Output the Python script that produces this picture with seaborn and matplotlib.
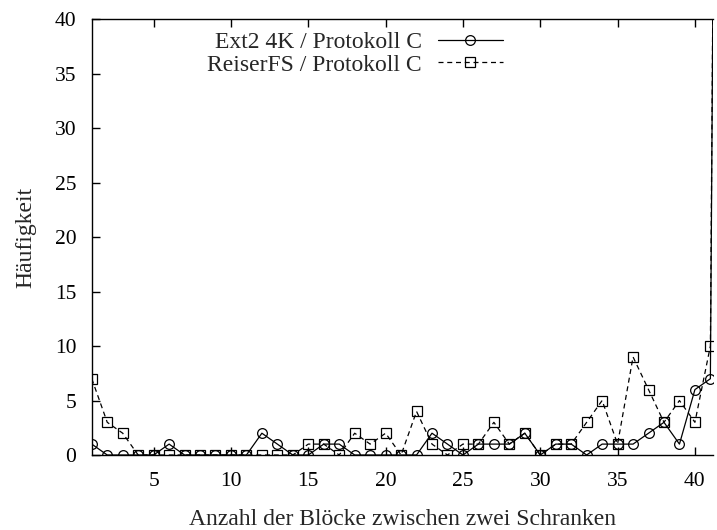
import matplotlib
matplotlib.use("Agg")
import matplotlib.pyplot as plt
import seaborn as sns
import pandas as pd

# Data: number of blocks between two barriers (x) vs frequency
blocks = list(range(1, 43))
ext2_counts = [1, 0, 0, 0, 0, 1, 0, 0, 0, 0,
               0, 2, 1, 0, 0, 1, 1, 0, 0, 0,
               0, 0, 2, 1, 0, 1, 1, 1, 2, 0,
               1, 1, 0, 1, 1, 1, 2, 3, 1, 6,
               7, 220]
reiser_counts = [7, 3, 2, 0, 0, 0, 0, 0, 0, 0,
                 0, 0, 0, 0, 1, 1, 0, 2, 1, 2,
                 0, 4, 1, 0, 1, 1, 3, 1, 2, 0,
                 1, 1, 3, 5, 1, 9, 6, 3, 5, 3,
                 10, 210]
series_labels = ["Ext2 4K / Protokoll C", "ReiserFS / Protokoll C"]
x_ticks = [5, 10, 15, 20, 25, 30, 35, 40]
y_ticks = [0, 5, 10, 15, 20, 25, 30, 35, 40]

df = pd.DataFrame({"Blocks": blocks, "Ext2": ext2_counts, "Reiser": reiser_counts})

sns.set_theme(style="white")
plt.rcParams["font.family"] = ["Liberation Serif", "DejaVu Serif"]
FS = 17
TFS = 15.5
plt.rcParams["font.size"] = FS

fig = plt.figure(figsize=(7.17, 5.30), dpi=100)
ax = fig.add_axes([0.128, 0.1415, 0.994 - 0.128, 0.964 - 0.1415])

sns.lineplot(data=df, x="Blocks", y="Ext2", ax=ax, color="black", lw=0.9,
             marker="o", markersize=7, fillstyle="none", markeredgewidth=0.9,
             markeredgecolor="black", label=series_labels[0])
sns.lineplot(data=df, x="Blocks", y="Reiser", ax=ax, color="black", lw=0.9,
             linestyle=(0, (4, 3)), marker="s", markersize=6.5, fillstyle="none",
             markeredgewidth=0.9, markeredgecolor="black", label=series_labels[1])

ax.set_xlim(1, 41.15)
ax.set_ylim(0, 40)
ax.set_xticks(x_ticks)
ax.set_yticks(y_ticks)
ax.tick_params(axis="both", direction="in", length=6, width=1, colors="black",
               labelsize=TFS)
ax.tick_params(axis="x", top=True, bottom=True, pad=12)
ax.tick_params(axis="y", left=True, right=False, pad=11)
for side in ["left", "bottom", "top"]:
    ax.spines[side].set_visible(True)
    ax.spines[side].set_color("black")
    ax.spines[side].set_linewidth(1.0)
ax.spines["right"].set_visible(False)

ax.set_xlabel("Anzahl der Blöcke zwischen zwei Schranken", fontsize=FS, labelpad=13)
ax.set_ylabel("Häufigkeit", fontsize=FS, labelpad=13)

leg = ax.legend(loc="upper right", bbox_to_anchor=(512 / 717, 1 - 22 / 530),
                bbox_transform=fig.transFigure, frameon=False, markerfirst=False,
                handlelength=2.75, handletextpad=0.68, labelspacing=0.05,
                borderaxespad=0, fontsize=FS)

fig.savefig("out.png", dpi=100)
